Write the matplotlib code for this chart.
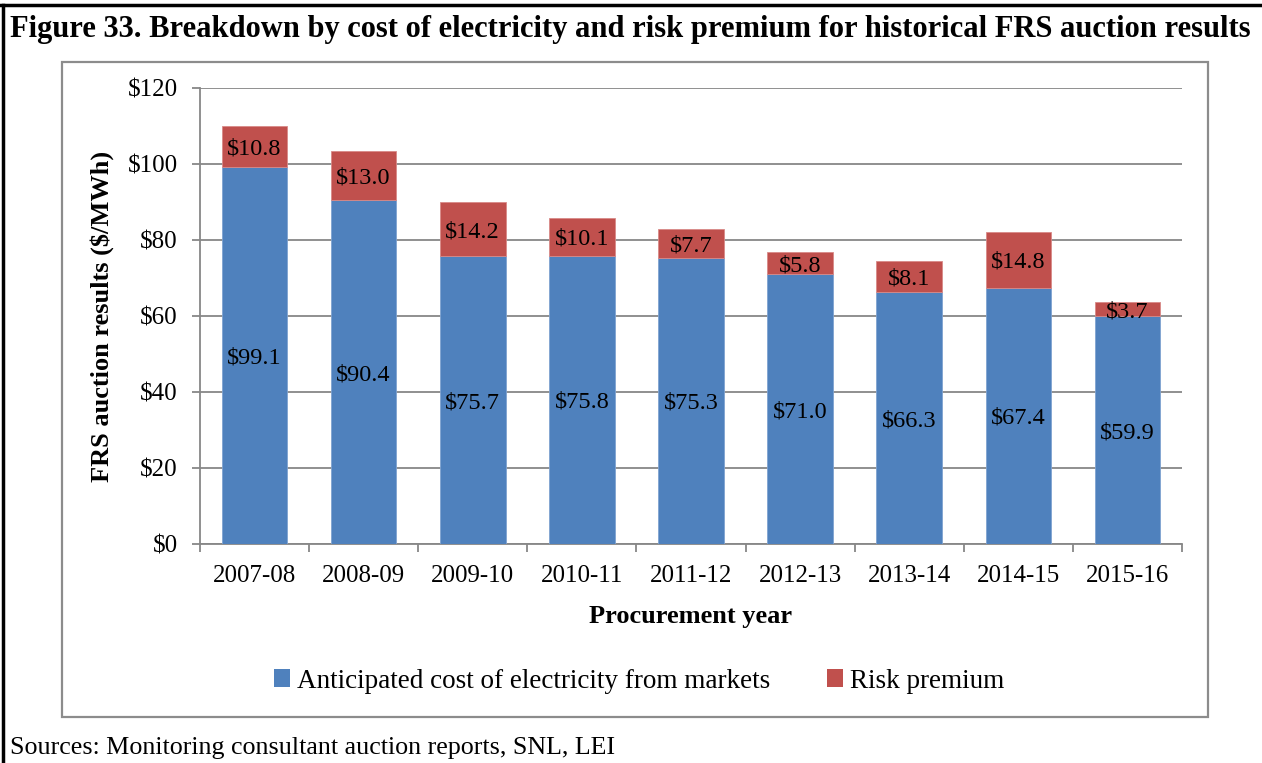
import numpy as np
import matplotlib
matplotlib.use("Agg")
import matplotlib.pyplot as plt
from matplotlib.patches import Rectangle, Patch
from matplotlib.lines import Line2D

# procurement years and FRS auction results ($/MWh)
years = ["2007-08", "2008-09", "2009-10", "2010-11", "2011-12",
         "2012-13", "2013-14", "2014-15", "2015-16"]
energy_cost = [99.1, 90.4, 75.7, 75.8, 75.3, 71.0, 66.3, 67.4, 59.9]
risk_premium = [10.8, 13.0, 14.2, 10.1, 7.7, 5.8, 8.1, 14.8, 3.7]
yticks = [0, 20, 40, 60, 80, 100, 120]

blue = "#4F81BD"
red = "#C0504D"
grid_col = "#878787"

plt.rcParams["font.family"] = ["Liberation Serif", "DejaVu Serif"]

W, H = 1262, 763
fig = plt.figure(figsize=(W / 100, H / 100), dpi=100)

def fx(px):
    return px / W

def fy(py):
    return 1 - py / H

# outer black frame (top and left edges)
fig.add_artist(Line2D([fx(0), fx(W)], [fy(5), fy(5)], color="black", lw=2.5))
fig.add_artist(Line2D([fx(3), fx(3)], [fy(5), fy(H)], color="black", lw=2.5))

# grey chart border
fig.add_artist(Rectangle((fx(62), fy(717)), fx(1208) - fx(62), fy(62) - fy(717),
                         fill=False, edgecolor="#8C8C8C", lw=1.6))

fig.text(fx(10), fy(30), "Figure 33. Breakdown by cost of electricity and risk premium for historical FRS auction results",
         fontsize=22, fontweight="bold", ha="left", va="center")
fig.text(fx(10), fy(748), "Sources: Monitoring consultant auction reports, SNL, LEI",
         fontsize=18.7, ha="left", va="center")

ax = fig.add_axes([fx(200), fy(544), fx(1182) - fx(200), fy(88) - fy(544)])
x = np.arange(len(years))
width = 0.6
ax.bar(x, energy_cost, width, color=blue, edgecolor="#7FA3D1", lw=0.6, zorder=3)
ax.bar(x, risk_premium, width, bottom=energy_cost, color=red, edgecolor="#D88A88", lw=0.6, zorder=3)

for i in range(len(years)):
    ax.text(x[i], energy_cost[i] / 2, f"${energy_cost[i]:.1f}", ha="center",
            va="center_baseline", fontsize=17.5, zorder=4)
    ax.text(x[i], energy_cost[i] + risk_premium[i] / 2, f"${risk_premium[i]:.1f}",
            ha="center", va="center_baseline", fontsize=17.5, zorder=4)

ax.set_xlim(-0.5, len(years) - 0.5)
ax.set_ylim(0, 120)
ax.set_yticks(yticks)
ax.set_yticklabels([f"${v}" for v in yticks], fontsize=18)
ax.yaxis.grid(True, color=grid_col, lw=1.3, zorder=0)
ax.set_axisbelow(True)

# category boundary ticks on the x axis, labels at bar centres
ax.set_xticks(np.arange(-0.5, len(years), 1.0))
ax.set_xticklabels([])
ax.set_xticks(x, minor=True)
ax.set_xticklabels(years, minor=True, fontsize=18)
ax.tick_params(axis="x", which="major", direction="out", length=6, width=1.3, color=grid_col)
ax.tick_params(axis="x", which="minor", length=0, pad=15)
ax.tick_params(axis="y", direction="out", length=6, width=1.3, color=grid_col, pad=10)

for s in ["top", "right"]:
    ax.spines[s].set_visible(False)
for s in ["left", "bottom"]:
    ax.spines[s].set_color(grid_col)
    ax.spines[s].set_linewidth(1.3)

ax.set_ylabel("FRS auction results ($/MWh)", fontsize=19, fontweight="bold", labelpad=10)
fig.text(fx(691), fy(617), "Procurement year", fontsize=19, fontweight="bold",
         ha="center", va="center")

handles = [Patch(facecolor=blue, edgecolor="none"), Patch(facecolor=red, edgecolor="none")]
fig.legend(handles, ["Anticipated cost of electricity from markets", "Risk premium"],
           loc="center", bbox_to_anchor=(fx(639), fy(681)), ncol=2, frameon=False,
           fontsize=19.5, handlelength=0.6, handleheight=0.6, handletextpad=0.25,
           columnspacing=2.1)

fig.savefig("out.png", dpi=100)
